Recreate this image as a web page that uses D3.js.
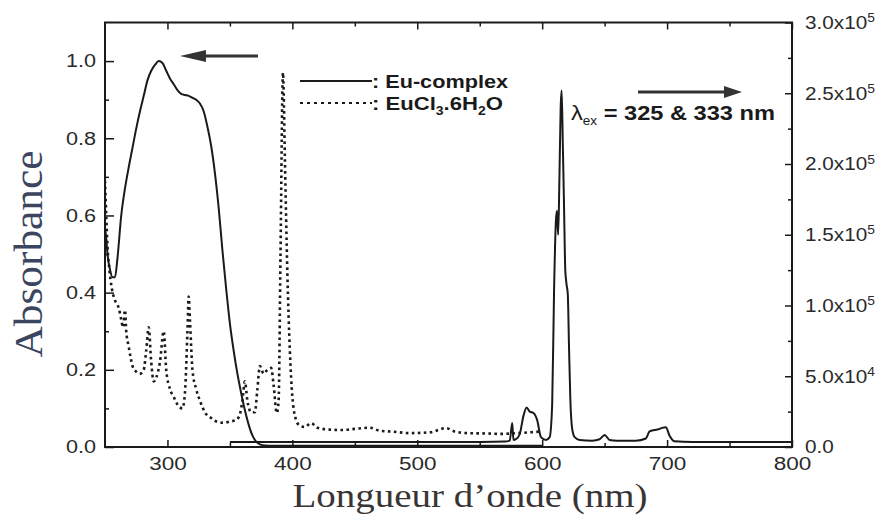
<!DOCTYPE html>
<html><head><meta charset="utf-8">
<script src="https://cdn.jsdelivr.net/npm/d3@7"></script>
<style>body{margin:0;background:#fff}</style>
</head><body><svg id="c" width="883" height="517"></svg>
<script>
// Eu-complex absorbance (left axis)
const absWl  = [250,251,252,254,256,258,260,263,266,269,272,275,278,281,284,287,290,293,296,299,302,305,308,311,314,317,320,323,326,329,332,335,338,341,344,347,350,353,356,359,362,365,368,371,374,378,385,400,450,500,550,600];
const absVal = [0.57,0.54,0.50,0.46,0.44,0.44,0.49,0.60,0.67,0.725,0.775,0.825,0.87,0.91,0.95,0.975,0.99,1.0,0.995,0.975,0.955,0.94,0.925,0.915,0.912,0.91,0.905,0.90,0.89,0.87,0.83,0.78,0.71,0.62,0.51,0.41,0.32,0.25,0.19,0.14,0.095,0.058,0.03,0.014,0.007,0.004,0.003,0.003,0.003,0.003,0.003,0.003];
// EuCl3.6H2O (left axis, dotted)
const saltWl  = [250,251,252,253.5,255.5,258,261,263,264.5,266,267,269,272,275,278,281,283,285,287,289,291,294,297,299,302,305,308,312,314,316,317,318,320,323,326,330,335,340,345,350,355,358,360,362,364,367,370,372,374,377,380,383,385,387.5,389,390.5,392.5,394,396,398,400,403,406,410,415,420,430,440,450,462,470,480,494,510,523,530,540,555,566,580,590,598];
const saltVal = [0.69,0.60,0.52,0.46,0.41,0.38,0.36,0.33,0.31,0.355,0.30,0.26,0.21,0.195,0.19,0.20,0.25,0.31,0.22,0.17,0.18,0.22,0.30,0.20,0.15,0.13,0.11,0.10,0.14,0.30,0.39,0.33,0.20,0.15,0.12,0.09,0.075,0.065,0.063,0.066,0.07,0.085,0.12,0.17,0.12,0.09,0.09,0.15,0.21,0.19,0.20,0.205,0.16,0.088,0.12,0.50,0.97,0.75,0.45,0.25,0.13,0.07,0.055,0.052,0.062,0.05,0.045,0.044,0.047,0.05,0.042,0.04,0.036,0.038,0.049,0.04,0.036,0.035,0.034,0.036,0.038,0.04];
// Eu-complex emission (right axis)
const emWl  = [350,400,450,500,550,570,574,576,577,579,582,585,587.5,590,593,596,599,603,606,608,609.5,611,611.8,612.8,613.8,614.8,615.6,616.5,617.5,618.5,619.5,620.5,621.5,622.5,624,626,630,640,646,650,654,660,675,683,686,690,693,696,699,702,706,720,760,800];
const emVal = [3500,3500,3600,3500,3600,3800,4500,17000,5000,5500,9000,22000,28000,25000,24000,19000,7000,5000,7000,30000,110000,160000,167000,150000,190000,240000,252000,215000,170000,125000,115000,108000,70000,35000,13000,7000,5000,4500,5500,8500,5000,4500,4500,6000,11000,12000,12500,13500,14000,8000,4000,3500,3500,3500];

const xTicks = [300,400,500,600,700,800];
const xMinor = [350,450,550,650,750];
const yLeftTicks = [0,0.2,0.4,0.6,0.8,1.0];
const yLeftMinor = [0.1,0.3,0.5,0.7,0.9];
const yRightTicks = [0,5e4,1e5,1.5e5,2e5,2.5e5,3e5];
const yRightMinor = [2.5e4,7.5e4,1.25e5,1.75e5,2.25e5,2.75e5];
const yRightMant = ["0.0","5.0x10","1.0x10","1.5x10","2.0x10","2.5x10","3.0x10"];
const yRightExp  = ["","4","5","5","5","5","5"];

const svg = d3.select("#c");
const L=105,R=792,T=22.5,B=447;
const x = d3.scaleLinear().domain([250,800]).range([L,R]);
const yL = d3.scaleLinear().domain([0,1.1]).range([B,T]);
const yR = d3.scaleLinear().domain([0,3e5]).range([B,T]);
const tickFont = "'Liberation Sans', Arial, sans-serif";
const serif = "'Liberation Serif', 'Times New Roman', serif";
const ink = "#1a1a1a";

// widen text horizontally (the reference is a horizontally stretched scan)
function stretch(sel,k){
  sel.each(function(){
    const w = this.getComputedTextLength();
    d3.select(this).attr("textLength",w*k).attr("lengthAdjust","spacingAndGlyphs");
  });
}

svg.append("defs").append("clipPath").attr("id","clip")
  .append("rect").attr("x",L).attr("y",T).attr("width",R-L).attr("height",B-T);

function styleAxis(g){
  g.select(".domain").remove();
  g.selectAll("line").attr("stroke",ink).attr("stroke-width",1.5);
  g.selectAll("text").attr("font-family",tickFont).attr("font-size",18).attr("fill","#2a2a2a");
}
// bottom
const gB = svg.append("g").attr("transform",`translate(0,${B})`)
  .call(d3.axisBottom(x).tickValues(xTicks).tickSize(-7).tickPadding(10).tickFormat(d3.format("d"))).call(styleAxis);
svg.append("g").attr("transform",`translate(0,${B})`)
  .call(d3.axisBottom(x).tickValues(xMinor).tickSize(-4).tickFormat("")).call(styleAxis);
// top
svg.append("g").attr("transform",`translate(0,${T})`)
  .call(d3.axisTop(x).tickValues(xTicks).tickSize(-7).tickFormat("")).call(styleAxis);
svg.append("g").attr("transform",`translate(0,${T})`)
  .call(d3.axisTop(x).tickValues(xMinor).tickSize(-4).tickFormat("")).call(styleAxis);
// left
const gL = svg.append("g").attr("transform",`translate(${L},0)`)
  .call(d3.axisLeft(yL).tickValues(yLeftTicks).tickSize(-9).tickPadding(9).tickFormat(d3.format(".1f"))).call(styleAxis);
svg.append("g").attr("transform",`translate(${L},0)`)
  .call(d3.axisLeft(yL).tickValues(yLeftMinor).tickSize(-4).tickFormat("")).call(styleAxis);
// right
const gR = svg.append("g").attr("transform",`translate(${R},0)`)
  .call(d3.axisRight(yR).tickValues(yRightTicks).tickSize(-7).tickPadding(12).tickFormat("")).call(styleAxis);
gR.selectAll(".tick text").each(function(d,i){
  const t = d3.select(this).attr("x",13).attr("dy","0.32em");
  t.append("tspan").text(yRightMant[i]);
  if (yRightExp[i]) t.append("tspan").attr("dy","-0.55em").attr("font-size",12).text(yRightExp[i]);
});
svg.append("g").attr("transform",`translate(${R},0)`)
  .call(d3.axisRight(yR).tickValues(yRightMinor).tickSize(-4).tickFormat("")).call(styleAxis);
stretch(gB.selectAll(".tick text"),1.25);
stretch(gL.selectAll(".tick text"),1.2);
stretch(gR.selectAll(".tick text"),1.15);

// frame
svg.append("rect").attr("x",L).attr("y",T).attr("width",R-L).attr("height",B-T)
  .attr("fill","none").attr("stroke",ink).attr("stroke-width",2);

const plot = svg.append("g").attr("clip-path","url(#clip)");
const lineL = d3.line().x(d=>x(d[0])).y(d=>yL(d[1])).curve(d3.curveMonotoneX);
const lineR = d3.line().x(d=>x(d[0])).y(d=>yR(d[1])).curve(d3.curveMonotoneX);

plot.append("path").datum(d3.zip(saltWl,saltVal)).attr("d",lineL)
  .attr("fill","none").attr("stroke",ink).attr("stroke-width",2.6).attr("stroke-dasharray","2.6,3.4");
plot.append("path").datum(d3.zip(absWl,absVal)).attr("d",lineL)
  .attr("fill","none").attr("stroke",ink).attr("stroke-width",2);
plot.append("path").datum(d3.zip(emWl,emVal)).attr("d",lineR)
  .attr("fill","none").attr("stroke",ink).attr("stroke-width",2);

// arrows
function arrow(x1,x2,y,head){
  const dir = Math.sign(x2-x1);
  svg.append("line").attr("x1",x1).attr("x2",x2-dir*head).attr("y1",y).attr("y2",y)
    .attr("stroke","#333").attr("stroke-width",3);
  svg.append("path").attr("d",`M${x2},${y} L${x2-dir*head},${y-6} L${x2-dir*head},${y+6} Z`).attr("fill","#333");
}
arrow(258,180,56,26);
arrow(638,742,92,18);

// legend
const lg = svg.append("g").attr("font-family",tickFont).attr("font-weight","bold").attr("font-size",19).attr("fill","#1a1a1a");
lg.append("line").attr("x1",300).attr("x2",372).attr("y1",81).attr("y2",81).attr("stroke",ink).attr("stroke-width",2);
const t1 = lg.append("text").attr("x",372).attr("y",88).text(": Eu-complex");
lg.append("line").attr("x1",300).attr("x2",372).attr("y1",103).attr("y2",103).attr("stroke",ink).attr("stroke-width",2).attr("stroke-dasharray","3,4");
const t2 = lg.append("text").attr("x",372).attr("y",110);
t2.append("tspan").text(": EuCl");
t2.append("tspan").attr("dy",5).attr("font-size",12).text("3");
t2.append("tspan").attr("dy",-5).text(".6H");
t2.append("tspan").attr("dy",5).attr("font-size",12).text("2");
t2.append("tspan").attr("dy",-5).text("O");
t1.attr("textLength",136).attr("lengthAdjust","spacingAndGlyphs");
t2.attr("textLength",131).attr("lengthAdjust","spacingAndGlyphs");

// annotation
const an = svg.append("text").attr("x",571).attr("y",120).attr("font-family",tickFont).attr("font-weight","bold").attr("font-size",21).attr("fill","#1a1a1a");
an.append("tspan").attr("font-weight","normal").text("λ");
an.append("tspan").attr("dy",5).attr("font-size",12).attr("font-weight","normal").text("ex");
an.append("tspan").attr("dy",-5).text(" = 325 & 333 nm");
an.attr("textLength",204).attr("lengthAdjust","spacingAndGlyphs");

// axis titles
svg.append("text").attr("transform","translate(42,254) rotate(-90)").attr("text-anchor","middle")
  .attr("font-family",serif).attr("font-size",40).attr("fill","#3b4560")
  .attr("textLength",207).attr("lengthAdjust","spacingAndGlyphs").text("Absorbance");
svg.append("text").attr("x",470).attr("y",507).attr("text-anchor","middle")
  .attr("font-family",serif).attr("font-size",34).attr("fill","#3a3535")
  .attr("textLength",355).attr("lengthAdjust","spacingAndGlyphs").text("Longueur d’onde (nm)");
</script></body></html>
